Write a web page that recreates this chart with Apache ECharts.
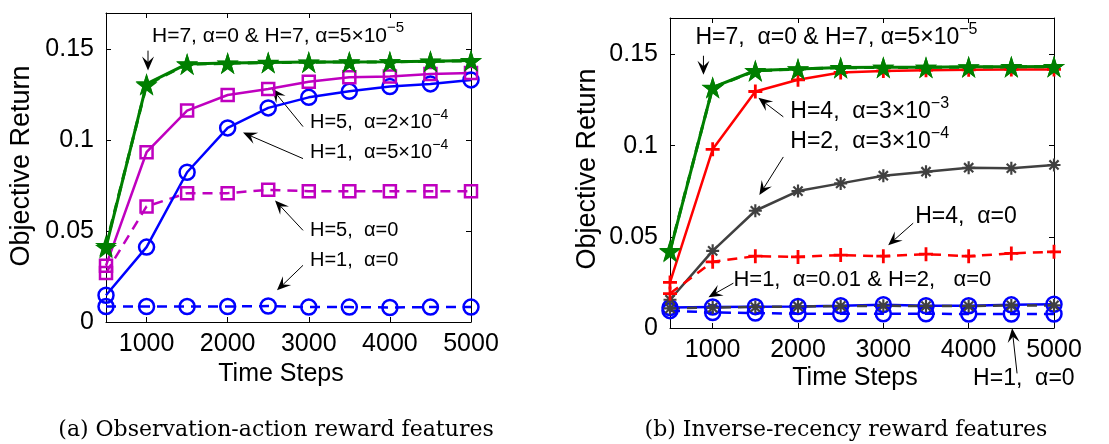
<!DOCTYPE html>
<html><head><meta charset="utf-8">
<script src="https://cdn.jsdelivr.net/npm/echarts@6/dist/echarts.min.js"></script>
<style>html,body{margin:0;padding:0;background:#fff}#c{width:1109px;height:444px}</style>
</head><body><div id="c"></div>
<script>
// ---- data ----
const xSteps = [500,1000,1500,2000,2500,3000,3500,4000,4500,5000];
const xTicks = [1000,2000,3000,4000,5000];
const yTicks = [0,0.05,0.1,0.15];

// (a) Observation-action reward features
const a_H1_a0    = [0.0085,0.0085,0.0085,0.0085,0.0088,0.0082,0.0082,0.0080,0.0082,0.0082];
const a_H5_a0    = [0.027,0.0636,0.0709,0.0709,0.0727,0.0720,0.0720,0.0720,0.0720,0.0720];
const a_H1_a5e4  = [0.0147,0.0412,0.0824,0.1068,0.1178,0.1236,0.1269,0.1295,0.1310,0.1332];
const a_H5_a2e4  = [0.031,0.0934,0.1163,0.1249,0.1282,0.1322,0.1346,0.1350,0.1365,0.1370];
const a_H7_a0    = [0.041,0.131,0.142,0.1425,0.1428,0.1430,0.1430,0.1432,0.1435,0.1438];
const a_H7_a5e5  = [0.042,0.1305,0.1418,0.1423,0.1427,0.1429,0.1431,0.1431,0.1434,0.1437];

// (b) Inverse-recency reward features
const b_H1_a0    = [0.0095,0.0085,0.0082,0.0078,0.0078,0.0078,0.0078,0.0077,0.0077,0.0077];
const b_H1_a001  = [0.0112,0.0115,0.0117,0.0118,0.0122,0.0128,0.0122,0.0122,0.0127,0.0130];
const b_H2_a0    = [0.0108,0.0112,0.0115,0.0118,0.0120,0.0122,0.0120,0.0120,0.0124,0.0124];
const b_H2_a3e4  = [0.0155,0.0423,0.0643,0.0751,0.0793,0.0835,0.0857,0.0879,0.0876,0.0894];
const b_H4_a0    = [0.0189,0.0363,0.0394,0.0390,0.0400,0.0394,0.0405,0.0394,0.0409,0.0418];
const b_H4_a3e3  = [0.0250,0.0980,0.1297,0.1361,0.1401,0.1410,0.1414,0.1416,0.1418,0.1418];
const b_H7_a0    = [0.042,0.132,0.1412,0.1421,0.1428,0.1430,0.1430,0.1432,0.1433,0.1434];
const b_H7_a5e5  = [0.0425,0.1318,0.1410,0.1420,0.1427,0.1429,0.1429,0.1431,0.1432,0.1433];

// annotations: [text, textAnchor(data), arrowFrom(data), arrowTip(data), fontSize]
const annA = [
  ['H=7, α=0 & H=7, α=5×10{s|−5}', [1067,0.1575], [1018,0.1493], [1018,0.1384], 21],
  ['H=5,  α=2×10{s|−4}', [3015,0.1097], [2929,0.1075], [2547,0.1284], 20],
  ['H=1,  α=5×10{s|−4}', [3015,0.0932], [2929,0.0899], [2189,0.1042], 20],
  ['H=5,  α=0', [3015,0.0504], [2929,0.0504], [2584,0.0669], 20],
  ['H=1,  α=0', [3015,0.0339], [2929,0.0312], [2608,0.0174], 20]
];
const annB = [
  ['H=7,  α=0 & H=7, α=5×10{s|−5}', [798,0.1592], [892,0.1493], [892,0.1389], 23],
  ['H=4,  α=3×10{s|−3}', [1910,0.1185], [1828,0.1158], [1536,0.1262], 23],
  ['H=2,  α=3×10{s|−4}', [1910,0.1020], [1828,0.0938], [1547,0.0729], 23],
  ['H=4,  α=0', [3373,0.0608], [3350,0.0575], [3057,0.0454], 23],
  ['H=1,  α=0.01 & H=2,   α=0', [1243,0.0262], [1243,0.0246], [951,0.0169], 22],
  ['H=1,  α=0', [4052,-0.0276], [4567,-0.0249], [4509,-0.0002], 23]
];

// ---- symbols ----
function starPath(){
  const p=[];
  for(let i=0;i<10;i++){const r=i%2?0.38:1;const a=-Math.PI/2+i*Math.PI/5;p.push((r*Math.cos(a)).toFixed(3)+','+(r*Math.sin(a)).toFixed(3));}
  return 'path://M'+p.join('L')+'Z';
}
const STAR = starPath();
const PLUS = 'path://M-0.6,-3H0.6V-0.6H3V0.6H0.6V3H-0.6V0.6H-3V-0.6H-0.6Z';
const AST = 'path://M-0.5,-3H0.5V3H-0.5Z M-3,-0.5H3V0.5H-3Z M-1.77,-2.475L2.475,1.77L1.77,2.475L-2.475,-1.77Z M2.475,-1.77L-1.77,2.475L-2.475,1.77L1.77,-2.475Z';

const FONT = 'Liberation Sans';
const GREEN='#007f00', MAG='#bf00bf', BLUE='#0000ff', RED='#ff0000', GRAY='#404040';

function mk(name, data, gi, color, dashed, sym, size, hollow, lw){
  return {
    name, type:'line', xAxisIndex: gi*2, yAxisIndex: gi*2,
    data: xSteps.map((x,i)=>[x,data[i]]),
    symbol: sym, symbolSize: size, showSymbol:true, clip:false,
    lineStyle:{color, width: lw||2.5, type: dashed?[10,7]:'solid'},
    itemStyle: hollow ? {color:'rgba(0,0,0,0)', borderColor: color, borderWidth: 2.5} : {color, borderWidth:0},
    emphasis:{disabled:true}, silent:true
  };
}

const grids = [
  {left:106, top:13, width:365, height:309},
  {left:670, top:18, width:384, height:310}
];

function xAx(gi, pos){
  const main = pos==='bottom';
  return {
    type:'value', gridIndex: gi, position: pos, min:500, max:5000,
    axisLine:{show:true, onZero:false, lineStyle:{color:'#000', width:1}},
    axisTick:{show:true, inside:true, length:5, customValues:xTicks, lineStyle:{color:'#000'}},
    axisLabel:{show:main, customValues:xTicks, margin:10, color:'#000', fontSize:25, fontFamily:FONT,
      formatter:(v)=>String(v)},
    splitLine:{show:false}
  };
}
function yAx(gi, pos){
  const main = pos==='left';
  return {
    type:'value', gridIndex: gi, position: pos, min:0, max:0.17,
    axisLine:{show:true, onZero:false, lineStyle:{color:'#000', width:1}},
    axisTick:{show:true, inside:true, length:5, customValues:yTicks, lineStyle:{color:'#000'}},
    axisLabel:{show:main, customValues:yTicks, margin:12, color:'#000', fontSize:25, fontFamily:FONT,
      formatter:(v)=>String(v)},
    splitLine:{show:false}
  };
}

const series = [
  mk('H=1, α=0', a_H1_a0, 0, BLUE, true, 'circle', 15, true),
  mk('H=5, α=0', a_H5_a0, 0, MAG, true, 'rect', 12, true),
  mk('H=1, α=5e-4', a_H1_a5e4, 0, BLUE, false, 'circle', 15, true),
  mk('H=5, α=2e-4', a_H5_a2e4, 0, MAG, false, 'rect', 12, true),
  mk('H=7, α=5e-5', a_H7_a5e5, 0, GREEN, true, STAR, 22, false, 3),
  mk('H=7, α=0', a_H7_a0, 0, GREEN, false, STAR, 22, false, 3),

  mk('H=1, α=0', b_H1_a0, 1, BLUE, true, 'circle', 15, true),
  mk('H=1, α=0.01', b_H1_a001, 1, BLUE, false, 'circle', 15, true),
  mk('H=2, α=0', b_H2_a0, 1, GRAY, true, AST, 13, false),
  mk('H=2, α=3e-4', b_H2_a3e4, 1, GRAY, false, AST, 13, false),
  mk('H=4, α=0', b_H4_a0, 1, RED, true, PLUS, 14, false),
  mk('H=4, α=3e-3', b_H4_a3e3, 1, RED, false, PLUS, 14, false),
  mk('H=7, α=5e-5', b_H7_a5e5, 1, GREEN, true, STAR, 22, false, 3),
  mk('H=7, α=0', b_H7_a0, 1, GREEN, false, STAR, 22, false, 3)
];

const chart = echarts.init(document.getElementById('c'), null, {renderer:'canvas'});
chart.setOption({
  backgroundColor:'#fff', animation:false,
  grid: grids,
  xAxis: [xAx(0,'bottom'), xAx(0,'top'), xAx(1,'bottom'), xAx(1,'top')],
  yAxis: [yAx(0,'left'), yAx(0,'right'), yAx(1,'left'), yAx(1,'right')],
  series
});

// ---- annotations, axis titles, captions ----
const g = [];
function addTitle(text, x, y, rot, size){
  g.push({type:'text', x, y, rotation: rot, silent:true,
    style:{text, x:0, y:0, align:'center', verticalAlign:'middle', fontSize:size, fontFamily:FONT, fill:'#000'}});
}
function addAnn(list, gi){
  const f = {xAxisIndex: gi*2, yAxisIndex: gi*2};
  list.forEach(([txt, tp, a0, a1, fs])=>{
    const t = chart.convertToPixel(f, tp);
    const p0 = chart.convertToPixel(f, a0);
    const p1 = chart.convertToPixel(f, a1);
    const ss = Math.round(fs*0.7);
    g.push({type:'text', silent:true, style:{
      text: txt, x:t[0], y:t[1], align:'left', verticalAlign:'middle',
      fontSize:fs, fontFamily:FONT, fill:'#000',
      rich:{s:{fontSize:ss, fontFamily:FONT, fill:'#000', padding:[0,0,ss,0]}}
    }});
    const dx=p1[0]-p0[0], dy=p1[1]-p0[1], L=Math.hypot(dx,dy), ux=dx/L, uy=dy/L, nx=-uy, ny=ux;
    const HL=14, HW=6;
    const bx=p1[0]-ux*HL, by=p1[1]-uy*HL;
    const nxp=p1[0]-ux*HL*0.6, nyp=p1[1]-uy*HL*0.6;
    g.push({type:'line', silent:true, shape:{x1:p0[0], y1:p0[1], x2:nxp, y2:nyp}, style:{stroke:'#000', lineWidth:1}});
    g.push({type:'polygon', silent:true, shape:{points:[[p1[0],p1[1]],[bx+nx*HW,by+ny*HW],[nxp,nyp],[bx-nx*HW,by-ny*HW]]}, style:{fill:'#000'}});
  });
}
addAnn(annA, 0);
addAnn(annB, 1);
addTitle('Objective Return', 22, 166, Math.PI/2, 27);
addTitle('Time Steps', 281, 374, 0, 25);
addTitle('Objective Return', 588, 169, Math.PI/2, 27);
addTitle('Time Steps', 855, 378, 0, 25);
g.push({type:'text', silent:true, style:{text:'(a) Observation-action reward features', x:276, y:430, align:'center', verticalAlign:'middle', fontSize:22, fontFamily:'DejaVu Serif', fill:'#000'}});
g.push({type:'text', silent:true, style:{text:'(b) Inverse-recency reward features', x:846, y:430, align:'center', verticalAlign:'middle', fontSize:22, fontFamily:'DejaVu Serif', fill:'#000'}});
chart.setOption({graphic: g});
</script>
</body></html>
